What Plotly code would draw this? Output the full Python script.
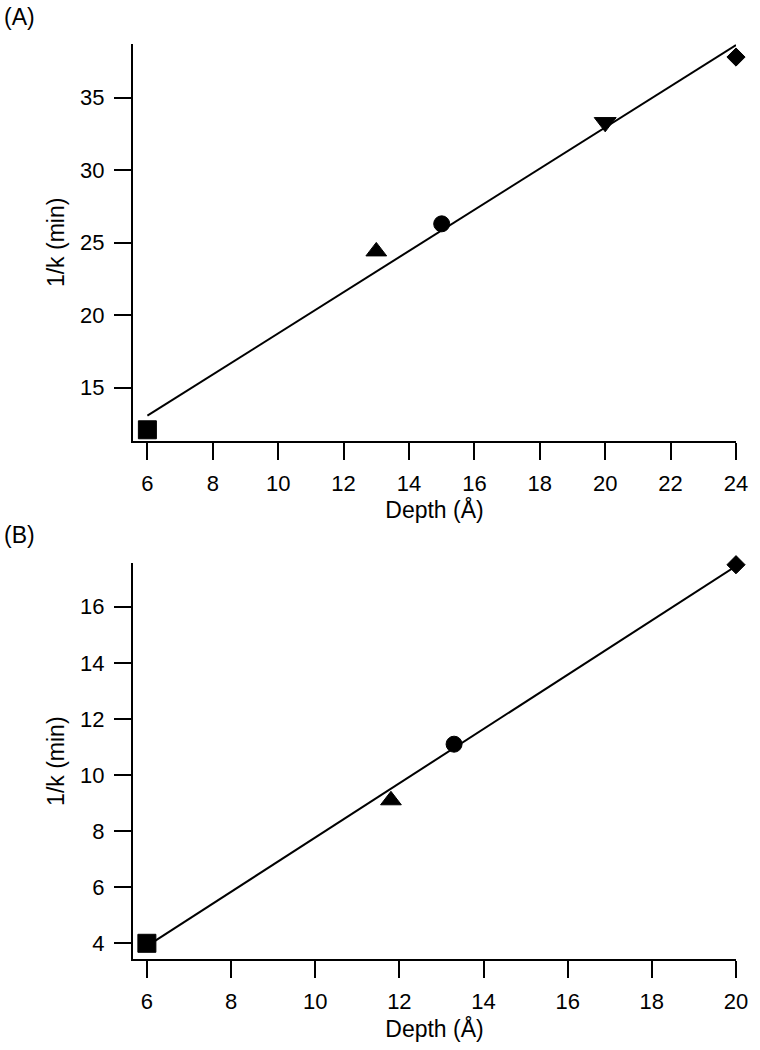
import plotly.graph_objects as go

# Panel A data
a_depth = [6, 13, 15, 20, 24]
a_invk = [12.1, 24.4, 26.3, 33.3, 37.8]
a_symbols = ["square", "triangle-up", "circle", "triangle-down", "diamond"]
a_fit_x = [6, 24]
a_fit_y = [13.07, 38.63]

# Panel B data
b_depth = [6, 11.8, 13.3, 20]
b_invk = [4.0, 9.1, 11.1, 17.5]
b_symbols = ["square", "triangle-up", "circle", "diamond"]
b_fit_x = [6, 20]
b_fit_y = [3.9, 17.45]

a_xticks = [6, 8, 10, 12, 14, 16, 18, 20, 22, 24]
a_yticks = [15, 20, 25, 30, 35]
b_xticks = [6, 8, 10, 12, 14, 16, 18, 20]
b_yticks = [4, 6, 8, 10, 12, 14, 16]

sizes = {"square": 18, "triangle-up": 18, "circle": 16, "triangle-down": 19, "diamond": 14}

FONT = "Liberation Sans, Arial, sans-serif"
TICKSIZE = 22
TITLESIZE = 23

W, H = 760, 1050
ML, MR, MT, MB = 133, 14, 44, 81
plot_w = W - ML - MR
plot_h = H - MT - MB


def ypx_to_paper(ypx):
    return (H - MB - ypx) / plot_h


def xpx_to_paper(xpx):
    return (xpx - ML) / plot_w


fig = go.Figure()

for fx, fy, dx, dy, syms, xa, ya in [
    (a_fit_x, a_fit_y, a_depth, a_invk, a_symbols, "x", "y"),
    (b_fit_x, b_fit_y, b_depth, b_invk, b_symbols, "x2", "y2"),
]:
    fig.add_trace(go.Scatter(x=fx, y=fy, mode="lines",
                             line=dict(color="#000000", width=2), xaxis=xa, yaxis=ya,
                             showlegend=False, cliponaxis=False))
    fig.add_trace(go.Scatter(x=dx, y=dy, mode="markers",
                             marker=dict(symbol=syms, size=[sizes[s] for s in syms],
                                         color="#000000", opacity=1,
                                         line=dict(width=1, color="#000000")),
                             xaxis=xa, yaxis=ya, showlegend=False, cliponaxis=False))

axis_common = dict(showgrid=False, zeroline=False, showline=True, linecolor="#000000",
                   linewidth=2, ticks="outside", ticklen=17, tickwidth=2, tickcolor="#000000",
                   tickfont=dict(family=FONT, size=TICKSIZE, color="#000000"), mirror=False,
                   ticklabeloverflow="allow")

xtitle = dict(text="Depth (Å)", font=dict(family=FONT, size=TITLESIZE, color="#000000"), standoff=7)
ytitle = dict(text="1/k (min)", font=dict(family=FONT, size=TITLESIZE, color="#000000"), standoff=9)

fig.update_layout(
    width=W, height=H,
    margin=dict(l=ML, r=MR, t=MT, b=MB),
    paper_bgcolor="white", plot_bgcolor="white",
    font=dict(family=FONT, color="#000000"),
    xaxis=dict(**axis_common, domain=[0, 1], range=[5.56, 24.0], tickvals=a_xticks,
               anchor="y", ticklabelstandoff=5, title=xtitle),
    yaxis=dict(**axis_common, domain=[ypx_to_paper(445), 1.0], range=[11.35, 38.7],
               tickvals=a_yticks, anchor="x", ticklabelstandoff=5, title=ytitle),
    xaxis2=dict(**axis_common, domain=[0, 1], range=[5.67, 20.0], tickvals=b_xticks,
                anchor="y2", ticklabelstandoff=5, title=xtitle),
    yaxis2=dict(**axis_common, domain=[0, ypx_to_paper(569)], range=[3.44, 17.55],
                tickvals=b_yticks, anchor="x2", ticklabelstandoff=5, title=ytitle),
    annotations=[
        dict(text="(A)", x=xpx_to_paper(0), y=ypx_to_paper(2), xref="paper", yref="paper",
             showarrow=False, xanchor="left", yanchor="top",
             font=dict(family=FONT, size=23, color="#000000")),
        dict(text="(B)", x=xpx_to_paper(0), y=ypx_to_paper(525), xref="paper", yref="paper",
             showarrow=False, xanchor="left", yanchor="top",
             font=dict(family=FONT, size=23, color="#000000")),
    ],
)

fig.write_html("out.html", config={"displayModeBar": False},
               post_script="document.body.style.margin='0';")
